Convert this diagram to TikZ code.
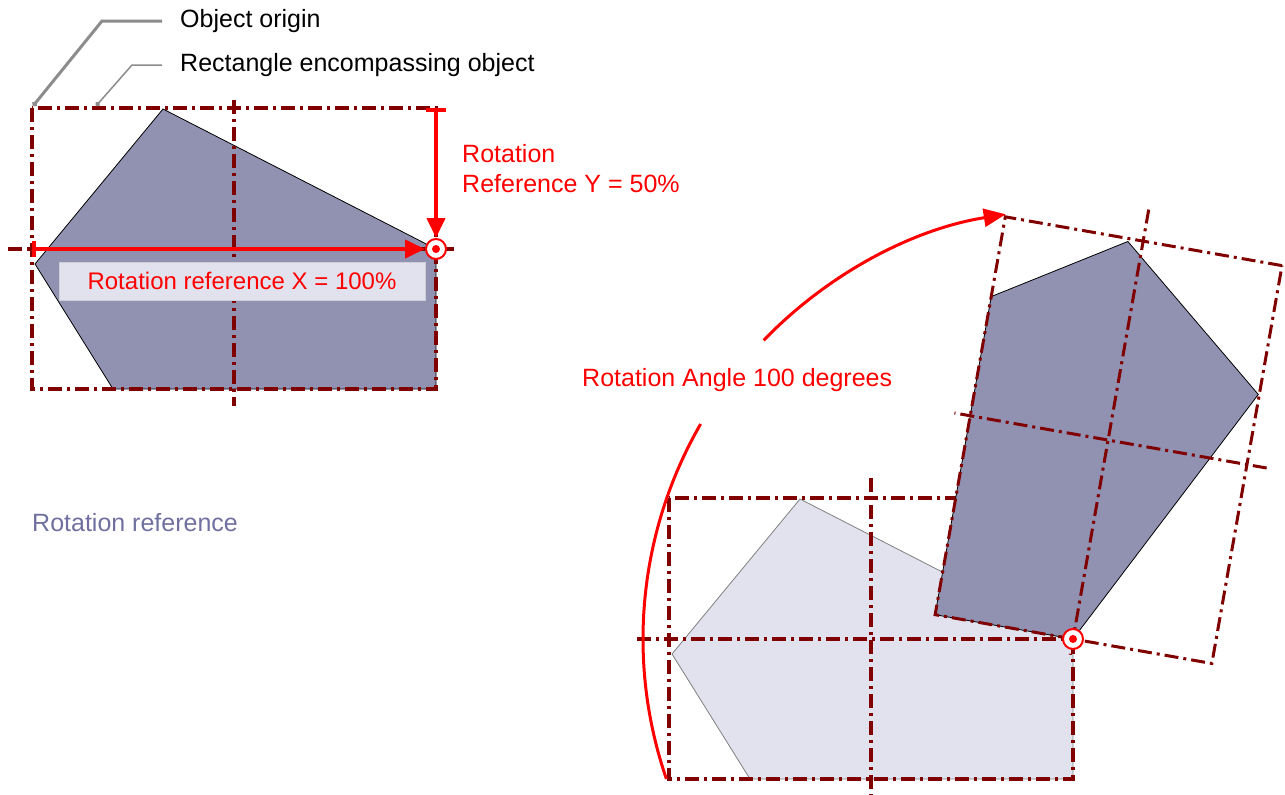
\documentclass[tikz,border=0pt]{standalone}
\usepackage{fontspec}
\setmainfont{Liberation Sans}
\usetikzlibrary{arrows.meta,positioning}
\definecolor{cFrame}{RGB}{128,0,0}
\definecolor{cArrow}{RGB}{255,0,0}
\definecolor{cPoly}{RGB}{145,145,178}
\definecolor{cGhost}{RGB}{226,226,238}
\definecolor{cLead}{RGB}{140,140,140}
\definecolor{cRef}{RGB}{112,112,160}
\tikzset{
  frame/.style={cFrame,line width=3.2pt,dash pattern=on 14pt off 5pt on 3pt off 5pt},
  redarrow/.style={cArrow,line width=4pt},
  lbl/.style={font=\fontsize{25}{30}\selectfont,inner sep=0pt,anchor=west},
  pivot/.style={circle,draw=cArrow,fill=white,line width=2pt,minimum size=20pt,inner sep=0pt},
  leadline/.style={cLead,-{Circle[length=5pt]}},
}
% the object, relative to its rectangle
\def\objshape{(131,1) -- (404,141) -- (404,281) -- (81,281) -- (3,156) -- cycle}

\begin{document}
\begin{tikzpicture}[x=1pt,y=-1pt]
  \useasboundingbox (0,0) rectangle (1285,795);
  % left: object with its rotation reference
  \begin{scope}[shift={(32,108)}]
    \fill[cPoly] \objshape;
    \draw[black,line width=0.8pt] \objshape;
    \draw[frame] (0,0) rectangle (404,281);
    \draw[frame] (202,-8) -- (202,298);
    \draw[frame] (-24,141) -- (423,141);
  \end{scope}
  \node[pivot] (pivL) at (436,249) {};
  \fill[cArrow] (pivL) circle (4pt);
  \coordinate (xstart) at (32,249);
  \coordinate (ystart) at (436,108);
  \draw[redarrow,{Bar[width=16pt]}-{Triangle[length=20pt,width=18pt]}] (xstart) -- (pivL);
  \draw[redarrow,{Bar[width=20pt]}-{Triangle[length=20pt,width=18pt]}] (ystart) -- (pivL);
  \node[fill=cGhost,draw=cGhost!80!gray,minimum width=366pt,minimum height=38pt,
        inner sep=0pt,text=cArrow,font=\fontsize{24}{30}\selectfont] (xlabel) at (242,281)
        {Rotation reference X = 100\%};
  \node[lbl,anchor=north west,align=left,text=cArrow] (ylabel) at (462,144)
        {Rotation\\Reference Y = 50\%};
  % leaders
  \node[lbl] (origin) at (180,21) {Object origin};
  \node[lbl] (encl) at (180,65) {Rectangle encompassing object};
  \coordinate (objorg) at (33,106);
  \coordinate (rectpt) at (96,106);
  \draw[leadline,line width=3pt] ([xshift=-18pt]origin.west) -- ++(-60,0) -- (objorg);
  \draw[leadline,line width=1.5pt] ([xshift=-18pt]encl.west) -- ++(-30,0) -- (rectpt);
  \node[lbl,text=cRef] (refname) at (32,523) {Rotation reference};
  % right: before rotation
  \begin{scope}[shift={(669,498)}]
    \fill[cGhost] \objshape;
    \draw[gray,line width=0.8pt] \objshape;
    \draw[frame] (0,0) rectangle (404,281);
    \draw[frame] (202,-20) -- (202,297);
    \draw[frame] (-32,141) -- (404,141);
  \end{scope}
  % right: after rotation
  \begin{scope}[rotate around={-100:(1073,639)},shift={(669,498)}]
    \fill[cPoly] \objshape;
    \draw[black,line width=0.8pt] \objshape;
    \draw[frame,line width=3pt] (0,0) rectangle (404,281);
    \draw[frame,line width=3pt] (202,-20) -- (202,297);
    \draw[frame,line width=3pt] (-32,141) -- (420,141);
  \end{scope}
  \node[pivot] (pivR) at (1073,639) {};
  \fill[cArrow] (pivR) circle (4pt);
  % rotation angle
  \draw[cArrow,line width=3pt] (pivR) ++(199:430pt) arc (199:150:430pt);
  \draw[cArrow,line width=3pt,-{Triangle[length=22pt,width=18pt]}] (pivR) ++(136:430pt) arc (136:99:430pt);
  \node[lbl,text=cArrow] (angle) at (582,380) {Rotation Angle 100 degrees};
\end{tikzpicture}
\end{document}
